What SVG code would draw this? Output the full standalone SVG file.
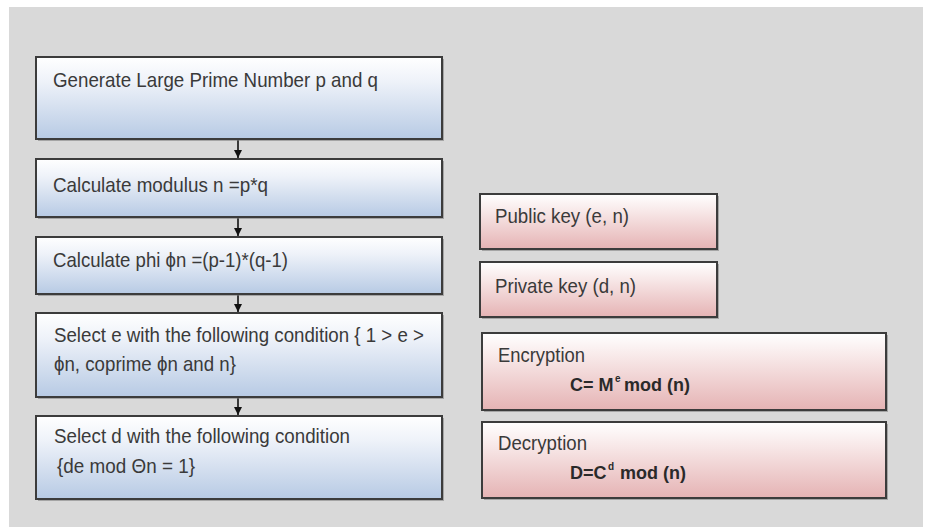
<svg xmlns="http://www.w3.org/2000/svg" width="925" height="527" viewBox="0 0 925 527">
  <defs>
    <linearGradient id="blue" x1="0" y1="0" x2="0" y2="1">
      <stop offset="0" stop-color="#ffffff"/>
      <stop offset="0.3" stop-color="#eef2f9"/>
      <stop offset="1" stop-color="#b7cae4"/>
    </linearGradient>
    <linearGradient id="pink" x1="0" y1="0" x2="0" y2="1">
      <stop offset="0" stop-color="#ffffff"/>
      <stop offset="0.3" stop-color="#f8e9e9"/>
      <stop offset="1" stop-color="#e5b3b4"/>
    </linearGradient>
    <marker id="arr" viewBox="0 0 10 10" refX="10" refY="5" markerWidth="8" markerHeight="8" orient="auto" markerUnits="userSpaceOnUse">
      <path d="M0,0 L10,5 L0,10 z" fill="#111"/>
    </marker>
  </defs>
  <style>
    .shadow { fill: #7a7a7a; opacity: 0.55; }
    .bbox { fill: url(#blue); stroke: #3c3c3c; stroke-width: 2; }
    .pbox { fill: url(#pink); stroke: #3c3c3c; stroke-width: 2; }
    .t { font-family: "Liberation Sans", Arial, sans-serif; font-size: 21px; fill: #3a3a3a; }
    .b { font-family: "Liberation Sans", Arial, sans-serif; font-size: 18px; font-weight: bold; fill: #2a2a2a; }
    .sup { font-family: "Liberation Sans", Arial, sans-serif; font-size: 10px; font-weight: bold; fill: #2a2a2a; }
    .conn { stroke: #111; stroke-width: 1.6; fill: none; }
  </style>
  <rect x="0" y="0" width="925" height="527" fill="#ffffff"/>
  <rect x="9" y="7" width="914" height="520" fill="#d9d9d9"/>

  <g id="connectors">
    <line class="conn" x1="238" y1="140" x2="238" y2="158" marker-end="url(#arr)"/>
    <line class="conn" x1="238" y1="218" x2="238" y2="236" marker-end="url(#arr)"/>
    <line class="conn" x1="238" y1="295" x2="238" y2="312" marker-end="url(#arr)"/>
    <line class="conn" x1="238" y1="398" x2="238" y2="415" marker-end="url(#arr)"/>
  </g>

  <g id="gen">
    <rect class="shadow" x="38" y="59" width="406" height="82"/>
    <rect class="bbox" x="36" y="57" width="406" height="82"/>
    <text class="t" x="53" y="87" textLength="325" lengthAdjust="spacingAndGlyphs">Generate Large Prime Number p and q</text>
  </g>
  <g id="modulus">
    <rect class="shadow" x="38" y="161" width="406" height="58"/>
    <rect class="bbox" x="36" y="159" width="406" height="58"/>
    <text class="t" x="53" y="192" textLength="215" lengthAdjust="spacingAndGlyphs">Calculate modulus n  =p*q</text>
  </g>
  <g id="phi">
    <rect class="shadow" x="38" y="239" width="406" height="57"/>
    <rect class="bbox" x="36" y="237" width="406" height="57"/>
    <text class="t" x="53" y="267" textLength="235" lengthAdjust="spacingAndGlyphs">Calculate phi ϕn  =(p-1)*(q-1)</text>
  </g>
  <g id="select-e">
    <rect class="shadow" x="38" y="315" width="406" height="84"/>
    <rect class="bbox" x="36" y="313" width="406" height="84"/>
    <text class="t" x="54" y="342" textLength="370" lengthAdjust="spacingAndGlyphs">Select e with the following condition { 1 &gt; e &gt;</text>
    <text class="t" x="54" y="371" textLength="182" lengthAdjust="spacingAndGlyphs">ϕn, coprime ϕn and n}</text>
  </g>
  <g id="select-d">
    <rect class="shadow" x="38" y="418" width="406" height="83"/>
    <rect class="bbox" x="36" y="416" width="406" height="83"/>
    <text class="t" x="54" y="443" textLength="296" lengthAdjust="spacingAndGlyphs">Select d with the following condition</text>
    <text class="t" x="57" y="473" textLength="138" lengthAdjust="spacingAndGlyphs">{de mod Θn = 1}</text>
  </g>

  <g id="public-key">
    <rect class="shadow" x="482" y="196" width="237" height="55"/>
    <rect class="pbox" x="480" y="194" width="237" height="55"/>
    <text class="t" x="495" y="223" textLength="134" lengthAdjust="spacingAndGlyphs">Public key (e, n)</text>
  </g>
  <g id="private-key">
    <rect class="shadow" x="482" y="264" width="237" height="55"/>
    <rect class="pbox" x="480" y="262" width="237" height="55"/>
    <text class="t" x="495" y="293" textLength="141" lengthAdjust="spacingAndGlyphs">Private key (d, n)</text>
  </g>
  <g id="encryption">
    <rect class="shadow" x="484" y="335" width="404" height="77"/>
    <rect class="pbox" x="482" y="333" width="404" height="77"/>
    <text class="t" x="498" y="362" textLength="87" lengthAdjust="spacingAndGlyphs">Encryption</text>
    <text class="b" x="570" y="391">C= M</text>
    <text class="sup" x="615" y="382">e</text>
    <text class="b" x="624" y="391">mod (n)</text>
  </g>
  <g id="decryption">
    <rect class="shadow" x="484" y="424" width="404" height="76"/>
    <rect class="pbox" x="482" y="422" width="404" height="76"/>
    <text class="t" x="498" y="450" textLength="89" lengthAdjust="spacingAndGlyphs">Decryption</text>
    <text class="b" x="570" y="479">D=C</text>
    <text class="sup" x="608" y="470">d</text>
    <text class="b" x="620" y="479">mod (n)</text>
  </g>
</svg>
